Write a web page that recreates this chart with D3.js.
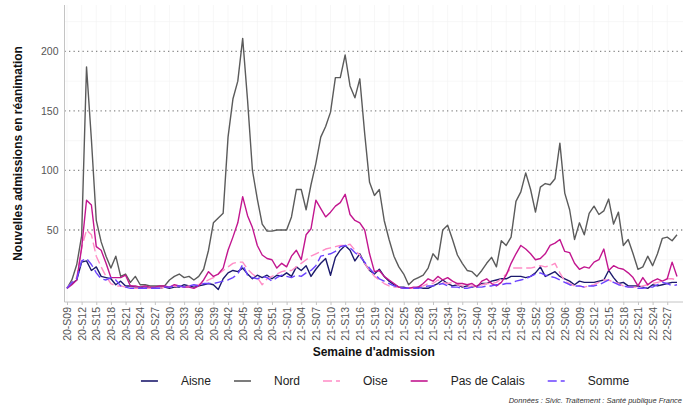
<!DOCTYPE html>
<html><head><meta charset="utf-8">
<script src="https://cdn.jsdelivr.net/npm/d3@7"></script>
<style>body{margin:0;background:#fff} svg{display:block;font-family:"Liberation Sans",Arial,sans-serif}</style>
</head><body><svg id="c" width="691" height="410"></svg>
<script>
const weeks = [
"20-S09","20-S10","20-S11","20-S12","20-S13","20-S14","20-S15","20-S16","20-S17","20-S18",
"20-S19","20-S20","20-S21","20-S22","20-S23","20-S24","20-S25","20-S26","20-S27","20-S28",
"20-S29","20-S30","20-S31","20-S32","20-S33","20-S34","20-S35","20-S36","20-S37","20-S38",
"20-S39","20-S40","20-S41","20-S42","20-S43","20-S44","20-S45","20-S46","20-S47","20-S48",
"20-S49","20-S50","20-S51","20-S52","20-S53",
"21-S01","21-S02","21-S03","21-S04","21-S05","21-S06","21-S07","21-S08","21-S09","21-S10",
"21-S11","21-S12","21-S13","21-S14","21-S15","21-S16","21-S17","21-S18","21-S19","21-S20",
"21-S21","21-S22","21-S23","21-S24","21-S25","21-S26","21-S27","21-S28","21-S29","21-S30",
"21-S31","21-S32","21-S33","21-S34","21-S35","21-S36","21-S37","21-S38","21-S39","21-S40",
"21-S41","21-S42","21-S43","21-S44","21-S45","21-S46","21-S47","21-S48","21-S49","21-S50",
"21-S51","21-S52",
"22-S01","22-S02","22-S03","22-S04","22-S05","22-S06","22-S07","22-S08","22-S09","22-S10",
"22-S11","22-S12","22-S13","22-S14","22-S15","22-S16","22-S17","22-S18","22-S19","22-S20",
"22-S21","22-S22","22-S23","22-S24","22-S25","22-S26","22-S27","22-S28","22-S29"];

const tickLabels = ["20-S09","20-S12","20-S15","20-S18","20-S21","20-S24","20-S27","20-S30","20-S33","20-S36",
"20-S39","20-S42","20-S45","20-S48","20-S51","21-S01","21-S04","21-S07","21-S10","21-S13","21-S16","21-S19",
"21-S22","21-S25","21-S28","21-S31","21-S34","21-S37","21-S40","21-S43","21-S46","21-S49","21-S52","22-S03",
"22-S06","22-S09","22-S12","22-S15","22-S18","22-S21","22-S24","22-S27"];

const yTicks = [50, 100, 150, 200];
const yMinorTicks = [25, 75, 125, 175, 225];

const aisne = [1,5,8,23,24,16,19,11,10,9, 4,7,3,3,2,2,2,1,1,1, 2,1,2,2,4,3,2,3,4,5,
 4,0,9,14,16,15,18,13,9,12, 10,12,9,12,11,14,11,19,16,20, 11,17,22,26,12,27,33,37,33,24,
 30,22,16,13,17,11,7,4,2,2, 1,1,2,1,1,3,5,8,5,3, 4,2,3,2,3,5,5,7,8,9,
 9,11,11,11,10,11,14,19,11,13, 15,11,9,7,4,7,6,6,6,7, 8,16,10,5,6,3,3,3,2,1, 4,3,4,5,6,6];

const nord = [1,8,21,45,187,126,58,40,28,18, 28,11,13,6,11,4,4,3,3,3, 3,8,11,13,10,11,8,11,17,33,
 56,60,64,128,160,175,211,159,100,76, 55,49,49,50,50,50,61,84,84,67, 88,106,128,137,149,178,178,197,171,161,
 177,131,90,79,84,58,42,28,19,13, 4,8,10,12,18,30,25,50,54,42, 29,22,16,15,11,16,22,27,19,41,
 37,44,74,82,98,84,65,86,89,88, 93,123,81,67,42,56,46,64,70,63, 66,76,55,65,37,42,30,17,19,28, 20,30,43,44,41,46];

const oise = [1,6,10,35,50,46,28,19,11,5, 3,3,2,1,1,1,1,1,1,1, 2,2,3,2,2,3,3,4,6,8,
 10,13,16,19,22,23,23,17,13,10, 4,9,11,13,15,16,16,19,22,25, 28,30,32,34,35,36,37,37,38,33,
 29,22,16,11,8,5,3,2,2,1, 1,1,2,3,5,5,8,6,5,6, 4,3,2,3,3,4,5,5,6,9,
 13,18,18,18,18,18,19,20,19,20, 22,14,7,5,3,3,2,3,4,6, 8,8,6,5,3,2,2,2,3,4, 5,6,7,9,9,8];

const pasDeCalais = [1,4,8,35,75,71,36,33,22,10, 10,10,12,3,3,2,3,2,2,3, 3,2,4,3,2,2,1,3,8,15,
 11,13,18,33,44,56,78,62,52,37, 29,26,25,18,22,19,28,33,25,46, 51,75,68,61,65,70,73,80,63,58,
 56,50,30,15,16,11,8,5,2,1, 1,2,2,5,9,7,11,8,10,7, 5,5,4,5,2,7,9,5,3,6,
 12,22,30,37,34,30,25,26,30,37, 39,42,32,31,22,17,19,18,23,25, 34,16,20,18,17,14,10,3,10,4, 7,9,7,9,23,11];

const somme = [1,6,9,24,26,21,14,9,8,10, 8,3,2,1,1,1,1,1,1,1, 2,2,3,3,2,3,4,3,5,5,
 5,6,7,8,10,13,21,12,10,9, 11,10,7,10,12,11,10,12,11,14, 16,20,28,29,30,32,36,37,35,31,
 28,23,18,13,9,7,5,3,2,1, 1,1,1,2,3,3,4,5,3,2, 2,1,1,2,2,2,3,3,4,4,
 5,5,7,8,9,11,13,14,12,11, 10,8,6,4,3,3,2,3,3,4, 6,8,6,4,3,2,2,1,1,2, 2,4,6,5,3,4];

const seriesNames = ["Aisne", "Nord", "Oise", "Pas de Calais", "Somme"];
const seriesValues = [aisne, nord, oise, pasDeCalais, somme];
const seriesColors = ["#1c1a6c", "#5b5b5b", "#ff8cc6", "#c2168f", "#6b42ff"];
const seriesDash = [null, null, "9,4", null, "9,4"];

const svg = d3.select("#c");
const panel = {left: 64.5, right: 683, top: 5, bottom: 302};

const x = d3.scalePoint().domain(weeks).range([67, 677]);
const y = d3.scaleLinear().domain([-10.5, 239]).range([panel.bottom, panel.top]);

// minor horizontal gridlines
svg.append("g").selectAll("line").data(yMinorTicks).join("line")
  .attr("x1", panel.left).attr("x2", panel.right)
  .attr("y1", d => y(d)).attr("y2", d => y(d))
  .attr("stroke", "#f1f1f1").attr("stroke-width", 0.6);
// vertical faint gridlines
svg.append("g").selectAll("line").data(tickLabels).join("line")
  .attr("x1", d => x(d)).attr("x2", d => x(d))
  .attr("y1", panel.top).attr("y2", panel.bottom)
  .attr("stroke", "#f1f1f1").attr("stroke-width", 0.6);
// major dotted gridlines
svg.append("g").selectAll("line").data(yTicks).join("line")
  .attr("x1", panel.left).attr("x2", panel.right)
  .attr("y1", d => y(d)).attr("y2", d => y(d))
  .attr("stroke", "#8a8a8a").attr("stroke-width", 1.3)
  .attr("stroke-dasharray", "1.3,3.2");

// axes lines
svg.append("line").attr("x1", panel.left).attr("x2", panel.left).attr("y1", panel.top).attr("y2", panel.bottom)
  .attr("stroke", "#c4c4c4").attr("stroke-width", 1);
svg.append("line").attr("x1", panel.left).attr("x2", panel.right).attr("y1", panel.bottom).attr("y2", panel.bottom)
  .attr("stroke", "#c4c4c4").attr("stroke-width", 1);

// x axis
const xAxis = d3.axisBottom(x).tickValues(tickLabels).tickSize(3).tickPadding(3);
const gx = svg.append("g").attr("transform", `translate(0,${panel.bottom})`).call(xAxis);
gx.select(".domain").remove();
gx.selectAll(".tick line").attr("stroke", "#c4c4c4");
gx.selectAll(".tick text")
  .attr("transform", "rotate(-90)")
  .attr("x", -5).attr("y", 0).attr("dy", "0.35em")
  .style("text-anchor", "end")
  .attr("fill", "#555").style("font-size", "10.5px")
  .style("font-family", '"Liberation Sans",Arial,sans-serif');

// y axis
const yAxis = d3.axisLeft(y).tickValues(yTicks).tickSize(0).tickPadding(6);
const gy = svg.append("g").attr("transform", `translate(${panel.left},0)`).call(yAxis);
gy.select(".domain").remove();
gy.selectAll(".tick text").attr("fill", "#555").style("font-size", "10.5px")
  .style("font-family", '"Liberation Sans",Arial,sans-serif');

// lines
const line = d3.line().x((d, i) => x(weeks[i])).y(d => y(d));
seriesValues.forEach((vals, k) => {
  svg.append("path").datum(vals)
    .attr("d", line)
    .attr("fill", "none")
    .attr("stroke", seriesColors[k])
    .attr("stroke-width", 1.4)
    .attr("stroke-linejoin", "round")
    .attr("stroke-dasharray", seriesDash[k]);
});

// axis titles
svg.append("text").attr("transform", `translate(18,${(panel.top + panel.bottom) / 2}) rotate(-90)`)
  .attr("text-anchor", "middle").attr("dy", "0.35em")
  .style("font-size", "12px").style("font-weight", "bold").attr("fill", "#111")
  .text("Nouvelles admissions en réanimation");
svg.append("text").attr("x", (panel.left + panel.right) / 2).attr("y", 352)
  .attr("text-anchor", "middle").attr("dy", "0.35em")
  .style("font-size", "12px").style("font-weight", "bold").attr("fill", "#111")
  .text("Semaine d'admission");

// legend
const lg = svg.append("g");
const keyW = 17, gap = 23, legY = 381;
const items = seriesNames.map((n, k) => {
  const g = lg.append("g");
  g.append("line").attr("x1", 0).attr("x2", keyW).attr("y1", legY).attr("y2", legY)
    .attr("stroke", seriesColors[k]).attr("stroke-width", 1.6).attr("stroke-dasharray", seriesDash[k]);
  const t = g.append("text").attr("x", keyW + gap).attr("y", legY).attr("dy", "0.35em")
    .style("font-size", "12px").attr("fill", "#222").text(n);
  return {g, w: keyW + gap + t.node().getComputedTextLength()};
});
const total = d3.sum(items, d => d.w) + gap * (items.length - 1);
let cx = 385 - total / 2;
items.forEach(it => { it.g.attr("transform", `translate(${cx},0)`); cx += it.w + gap; });

// caption
svg.append("text").attr("x", 682).attr("y", 403).attr("text-anchor", "end")
  .style("font-size", "7.5px").style("font-style", "italic").attr("fill", "#333")
  .text("Données : Sivic. Traitement : Santé publique France");
</script></body></html>
